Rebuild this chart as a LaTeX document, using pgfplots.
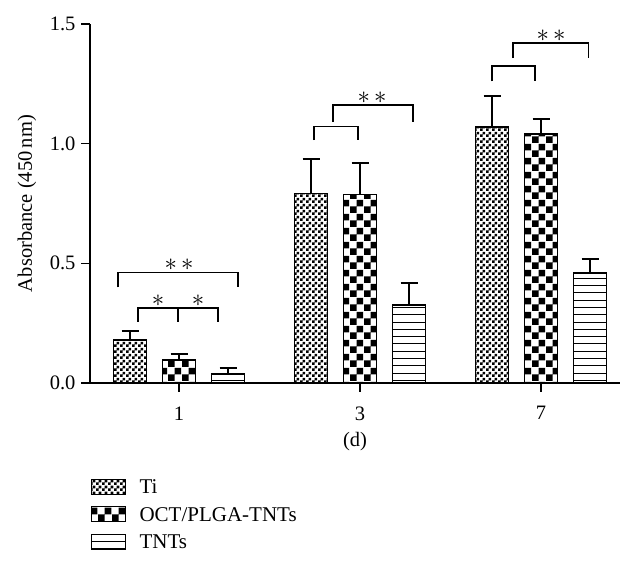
\documentclass[border=0pt]{standalone}
\usepackage{fontspec}
\setmainfont{Liberation Serif}
\usepackage{pgfplots}
\pgfplotsset{compat=1.18}
\usetikzlibrary{patterns}
\pgfdeclarepatternformonly{finecheck}{\pgfpointorigin}{\pgfpoint{6bp}{6bp}}{\pgfpoint{6bp}{6bp}}{%
  \pgfpathrectangle{\pgfpointorigin}{\pgfpoint{3bp}{3bp}}%
  \pgfpathrectangle{\pgfpoint{3bp}{3bp}}{\pgfpoint{3bp}{3bp}}%
  \pgfusepath{fill}}
\pgfdeclarepatternformonly{coarsecheck}{\pgfpointorigin}{\pgfpoint{14bp}{14bp}}{\pgfpoint{14bp}{14bp}}{%
  \pgfpathrectangle{\pgfpointorigin}{\pgfpoint{7bp}{7bp}}%
  \pgfpathrectangle{\pgfpoint{7bp}{7bp}}{\pgfpoint{7bp}{7bp}}%
  \pgfusepath{fill}}
\pgfdeclarepatternformonly{hlines}{\pgfpoint{0bp}{-1bp}}{\pgfpoint{4bp}{8bp}}{\pgfpoint{4bp}{7.3bp}}{%
  \pgfsetlinewidth{1bp}%
  \pgfpathmoveto{\pgfpoint{-1bp}{0bp}}\pgfpathlineto{\pgfpoint{5bp}{0bp}}%
  \pgfusepath{stroke}}
\begin{document}
\begin{tikzpicture}[x=1bp,y=1bp]
\useasboundingbox (0,0) rectangle (644,563);
\begin{axis}[
  at={(90bp,180bp)}, anchor=south west,
  scale only axis,
  width=530bp, height=359bp,
  xmin=-0.492, xmax=2.436,
  ymin=0, ymax=1.5,
  axis x line*=bottom, axis y line*=left,
  axis line style={line width=1.3bp, -},
  xtick={0,1,2}, xticklabels={1,3,7},
  ytick={0,0.5,1.0,1.5},
  /pgf/number format/assume math mode=true,
  yticklabel style={/pgf/number format/fixed, /pgf/number format/fixed zerofill, /pgf/number format/precision=1, xshift=-2bp},
  tick align=outside,
  major tick length=9bp,
  tick style={line width=1.3bp, black},
  ticklabel style={font=\fontsize{20.5bp}{22bp}\selectfont},
  xticklabel style={yshift=-11bp},
  label style={font=\fontsize{20.5bp}{22bp}\selectfont},
  ylabel={Absorbance (450\,nm)},
  xlabel={(d)},
  ylabel style={at={(axis description cs:-0.095,0.5)}},
  xlabel style={at={(axis description cs:0.5,-0.128)}},
  ybar, bar width=33bp,
  legend style={draw=none, at={(axis description cs:-0.004,-0.258)}, anchor=north west,
    font=\fontsize{21bp}{22bp}\selectfont, row sep=8bp},
  legend cell align=left,
  legend image code/.code={\draw[#1, line width=1bp] (0bp,-7bp) rectangle (34bp,8bp);
    \path[draw=none, fill=none] (0bp,0bp) -- (46bp,0bp);},
  error bars/y dir=plus, error bars/y explicit,
  error bars/error bar style={line width=1.5bp, black},
  error bars/error mark options={rotate=90, mark size=8.5bp, line width=1.5bp, black},
]
\addplot[bar shift=-49bp, draw=black, line width=1.3bp, pattern=finecheck]
  coordinates {(0,0.180) +- (0,0.037) (1,0.793) +- (0,0.142) (2,1.069) +- (0,0.131)};
\addlegendentry{Ti}
\addplot[bar shift=0bp, draw=black, line width=1.3bp, pattern=coarsecheck]
  coordinates {(0,0.096) +- (0,0.025) (1,0.788) +- (0,0.132) (2,1.040) +- (0,0.062)};
\addlegendentry{OCT/PLGA-TNTs}
\addplot[bar shift=49bp, draw=black, line width=1.3bp, pattern=hlines]
  coordinates {(0,0.038) +- (0,0.025) (1,0.326) +- (0,0.092) (2,0.459) +- (0,0.059)};
\addlegendentry{TNTs}
% significance brackets
\begin{scope}[line width=1.3bp]
\draw (axis cs:-0.337,0.400) -- (axis cs:-0.337,0.463) -- (axis cs:0.326,0.463) -- (axis cs:0.326,0.400);
\draw (axis cs:-0.227,0.255) -- (axis cs:-0.227,0.313) -- (axis cs:0.215,0.313) -- (axis cs:0.215,0.255);
\draw (axis cs:-0.006,0.313) -- (axis cs:-0.006,0.255);
\draw (axis cs:0.746,1.015) -- (axis cs:0.746,1.073) -- (axis cs:0.989,1.073) -- (axis cs:0.989,1.015);
\draw (axis cs:0.851,1.090) -- (axis cs:0.851,1.161) -- (axis cs:1.293,1.161) -- (axis cs:1.293,1.090);
\draw (axis cs:1.729,1.260) -- (axis cs:1.729,1.324) -- (axis cs:1.967,1.324) -- (axis cs:1.967,1.260);
\draw (axis cs:1.845,1.357) -- (axis cs:1.845,1.420) -- (axis cs:2.260,1.420) -- (axis cs:2.260,1.357);
\end{scope}
\begin{scope}[font=\fontsize{28bp}{28bp}\selectfont]
\node at (axis cs:0,0.494) {$\ast\,\ast$};
\node at (axis cs:-0.116,0.344) {$\ast$};
\node at (axis cs:0.105,0.344) {$\ast$};
\node at (axis cs:1.066,1.192) {$\ast\,\ast$};
\node at (axis cs:2.055,1.451) {$\ast\,\ast$};
\end{scope}
\end{axis}
\end{tikzpicture}
\end{document}
